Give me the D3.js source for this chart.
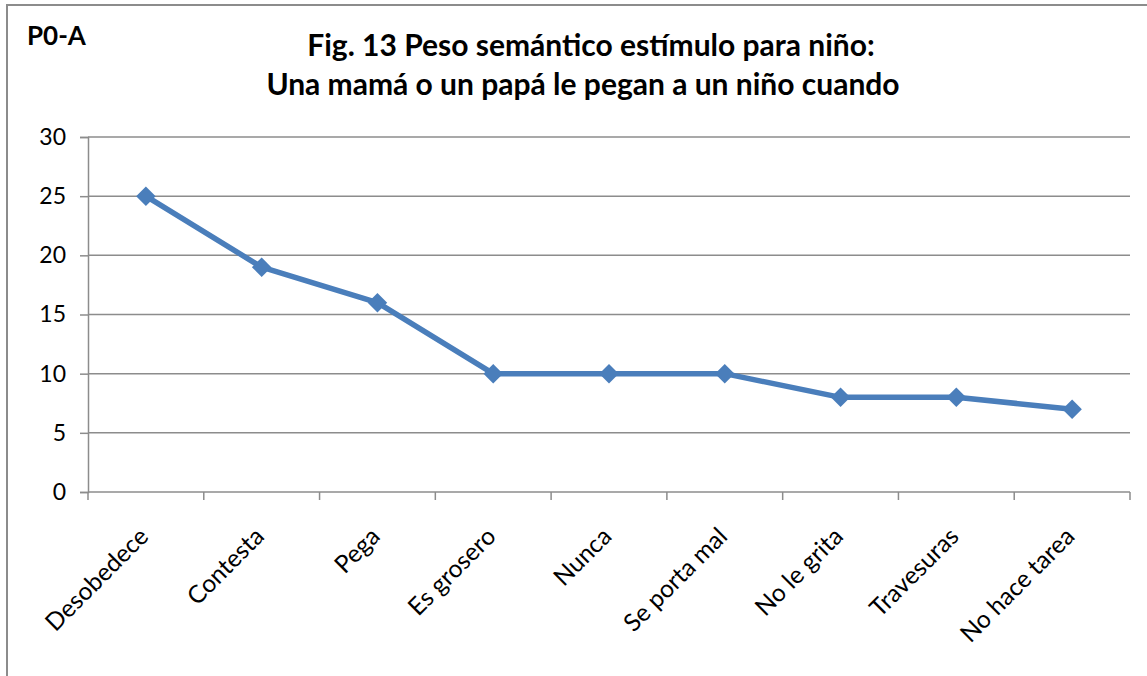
<!DOCTYPE html>
<html>
<head>
<meta charset="utf-8">
<script src="https://cdn.jsdelivr.net/npm/d3@7"></script>
<style>
  body { margin: 0; background: #fff; }
  text { font-family: Lato, "Open Sans", sans-serif; fill: #000; }
</style>
</head>
<body>
<div id="chart"></div>
<script>
// donnees
var categories = ["Desobedece", "Contesta", "Pega", "Es grosero", "Nunca",
                  "Se porta mal", "No le grita", "Travesuras", "No hace tarea"];
var valores = [25, 19, 16, 10, 10, 10, 8, 8, 7];
var yTicks = [0, 5, 10, 15, 20, 25, 30];

var width = 1147,
    height = 676;

var margin = {left: 88, right: 17, top: 137, bottom: 184};

var svg = d3.select("#chart")
    .append("svg")
    .attr("width", width)
    .attr("height", height);

// cadre du graphique
svg.append("path")
    .attr("d", "M7,676 V5 H1147")
    .attr("fill", "none")
    .attr("stroke", "#8c8c8c")
    .attr("stroke-width", 2);

var x = d3.scaleBand()
    .domain(categories)
    .range([margin.left, width - margin.right]);

var y = d3.scaleLinear()
    .domain([0, 30])
    .range([height - margin.bottom, margin.top]);

// lignes de la grille
svg.append("g")
    .selectAll("line")
    .data(yTicks.slice(1))
    .enter().append("line")
    .attr("x1", margin.left)
    .attr("x2", width - margin.right)
    .attr("y1", function(d) { return y(d); })
    .attr("y2", function(d) { return y(d); })
    .attr("stroke", "#8c8c8c")
    .attr("stroke-width", 1.5);

// axe y
var yAxis = svg.append("g")
    .attr("transform", "translate(" + margin.left + ",0)")
    .call(d3.axisLeft(y).tickValues(yTicks).tickSize(8).tickPadding(14));
yAxis.selectAll("line, path").attr("stroke", "#8c8c8c").attr("stroke-width", 1.5);
yAxis.selectAll("text").style("font-size", "23px").attr("fill", "#000");

// axe x, ticks entre les categories
var bandEdges = categories.map(function(c) { return x(c); }).concat([width - margin.right]);
var xAxisG = svg.append("g")
    .attr("transform", "translate(0," + y(0) + ")");
xAxisG.append("line")
    .attr("x1", margin.left).attr("x2", width - margin.right)
    .attr("stroke", "#8c8c8c").attr("stroke-width", 1.5);
xAxisG.selectAll(".tk")
    .data(bandEdges)
    .enter().append("line")
    .attr("class", "tk")
    .attr("x1", function(d) { return d; })
    .attr("x2", function(d) { return d; })
    .attr("y1", 0).attr("y2", 8)
    .attr("stroke", "#8c8c8c").attr("stroke-width", 1.5);
xAxisG.selectAll(".lab")
    .data(categories)
    .enter().append("text")
    .attr("class", "lab")
    .attr("text-anchor", "end")
    .style("font-size", "24.5px")
    .attr("transform", function(d) {
        return "translate(" + (x(d) + x.bandwidth() / 2 + 4) + ",46) rotate(-45)";
    })
    .text(function(d) { return d; });

// la ligne
var line = d3.line()
    .x(function(d, i) { return x(categories[i]) + x.bandwidth() / 2; })
    .y(function(d) { return y(d); });

svg.append("path")
    .datum(valores)
    .attr("d", line)
    .attr("fill", "none")
    .attr("stroke", "#4a7ebb")
    .attr("stroke-width", 5.5)
    .attr("stroke-linejoin", "round");

// marqueurs en losange
svg.append("g")
    .selectAll("path")
    .data(valores)
    .enter().append("path")
    .attr("d", d3.symbol().type(d3.symbolSquare).size(190))
    .attr("transform", function(d, i) {
        return "translate(" + (x(categories[i]) + x.bandwidth() / 2) + "," + y(d) + ") rotate(45)";
    })
    .attr("fill", "#4a7ebb");

// titres
svg.append("text")
    .attr("x", 27).attr("y", 45)
    .style("font-size", "26px").style("font-weight", "bold")
    .text("P0-A");

svg.append("text")
    .attr("x", 591).attr("y", 56)
    .attr("text-anchor", "middle")
    .style("font-size", "30px").style("font-weight", "bold")
    .text("Fig. 13 Peso semántico estímulo para niño:");
svg.append("text")
    .attr("x", 583).attr("y", 95)
    .attr("text-anchor", "middle")
    .style("font-size", "30px").style("font-weight", "bold")
    .text("Una mamá o un papá le pegan a un niño cuando");
</script>
</body>
</html>
